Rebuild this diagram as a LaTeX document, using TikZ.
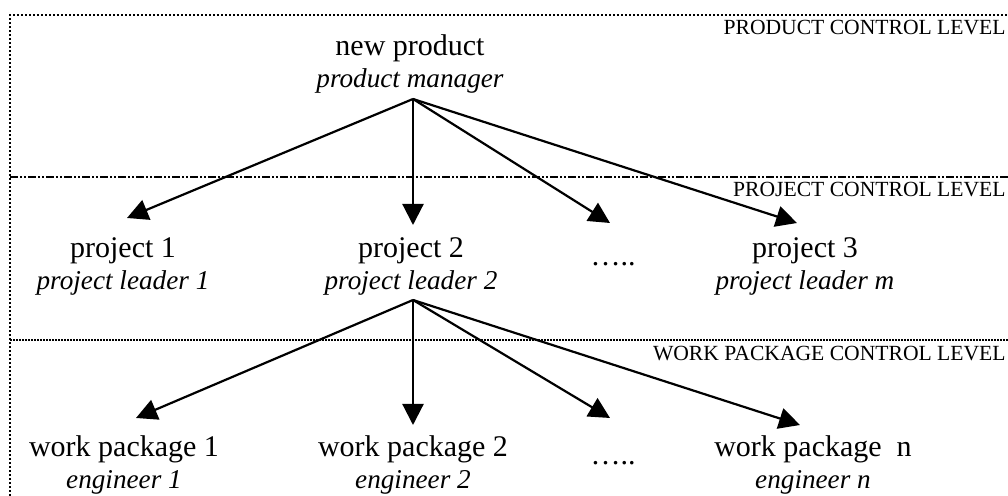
\documentclass[tikz,border=0pt]{standalone}
\usepackage{fontspec}
\setmainfont{Liberation Serif}
\usetikzlibrary{arrows.meta}
\newcommand{\role}[1]{{\fontsize{13.6}{16}\selectfont\itshape #1}}
\begin{document}
\begin{tikzpicture}[x=0.5pt,y=-0.5pt,
  lbl/.style={align=center,inner sep=0pt,font=\fontsize{15}{16}\selectfont},
  lvl/.style={anchor=north east,inner sep=0pt,font=\fontsize{10.8}{12}\selectfont},
  arr/.style={line width=1.1pt,-{Triangle[length=10.5pt,width=10.5pt]}},
  dotline/.style={line width=1pt,dash pattern=on 1pt off 1pt},
  ddline/.style={line width=1pt,dash pattern=on 4pt off 1pt on 1pt off 1pt on 1pt off 1pt},
  wpline/.style={line width=1pt,dash pattern=on 1pt off 0.5pt}]
\useasboundingbox (0,0) rectangle (1008,496);
% frame and level lines
\coordinate (tl) at (10,15);
\coordinate (tr) at (1008,15);
\coordinate (bl) at (10,496);
\coordinate (pl) at (10,177);
\coordinate (pr) at (1008,177);
\coordinate (wl) at (10,340);
\coordinate (wr) at (1008,340);
\draw[dotline] (bl) -- (tl) -- (tr);
\draw[ddline] (pl) -- (pr);
\draw[wpline] (wl) -- (wr);
\node[lvl] (L1) at (1006,20) {PRODUCT CONTROL LEVEL};
\node[lvl] (L2) at (1006,182) {PROJECT CONTROL LEVEL};
\node[lvl] (L3) at (1006,346) {WORK PACKAGE CONTROL LEVEL};
% nodes
\node[lbl] (np) at (410,64) {new product\\ \role{product manager}};
\node[lbl] (p1) at (123,266) {project 1\\ \role{project leader 1}};
\node[lbl] (p2) at (411,266) {project 2\\ \role{project leader 2}};
\node[lbl] (pd) at (613,264) {\dots..};
\node[lbl] (p3) at (805,266) {project 3\\ \role{project leader m}};
\node[lbl] (w1) at (124,465) {work package 1\\ \role{engineer 1}};
\node[lbl] (w2) at (413,465) {work package 2\\ \role{engineer 2}};
\node[lbl] (wd) at (613,463) {\dots..};
\node[lbl] (wn) at (813,465) {work package\ \ n\\ \role{engineer n}};
% arrow endpoints
\coordinate (s1) at (413,99);
\coordinate (t11) at (127,218);
\coordinate (t12) at (413,225);
\coordinate (t13) at (610,223);
\coordinate (t14) at (797,223);
\coordinate (s2) at (413,300);
\coordinate (t21) at (136,418);
\coordinate (t22) at (413,425);
\coordinate (t23) at (610,418);
\coordinate (t24) at (800,425);
\foreach \t in {t11,t12,t13,t14} \draw[arr] (s1) -- (\t);
\foreach \t in {t21,t22,t23,t24} \draw[arr] (s2) -- (\t);
\end{tikzpicture}
\end{document}
